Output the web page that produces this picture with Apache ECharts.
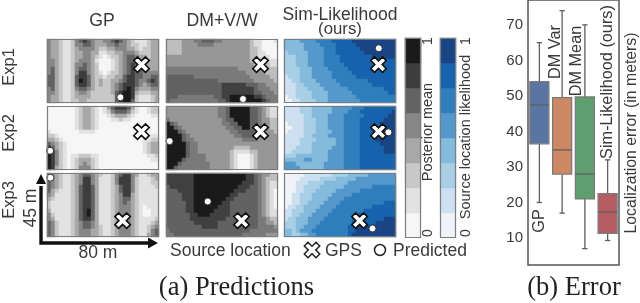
<!DOCTYPE html>
<html><head><meta charset="utf-8">
<style>html,body{margin:0;padding:0;background:#fff}#c{width:640px;height:303px;filter:blur(0.45px)}</style>
<script src="https://cdn.jsdelivr.net/npm/echarts@6/dist/echarts.min.js"></script>
</head><body><div id="c"></div>
<script>
// Contour level tables: one row of digits per 2.8 m band, 0 = lowest level, 7 = highest
const gpExp1=["4332112456543344565432111233","4332112445543334454432211233","4332112344443223344433212233","4332112334433112233444322233","4332112334432101223455433233","4432112344431000123455443333","4432112445432000123456544333","4532112455432000123456554333","4532112466432101223456554444","5532112566532212233566554455","5532112576532322334566544565","5532112566532322345666543455","4532112455432222345676433344","4432112344322222356776322233","4332112333322222256776211123","4332112233222222256775211123"];
const gpExp2=["0000000123321013566653100122","0000000123321012455542100122","0000000123321001233321000011","0000000123321000112110000000","0000000123321000000000000000","0000000123321000000000000000","1000000011110000000000000000","2210000000000000000000000011","3321000000000000000000001122","5432100000000000000000001233","6532100000000000000000001233","7642100000000000000000001233","7642101122211000000000000112","7642101233321000000000000011","7642101234321000000000000000","7632101244421000000000000000"];
const gpExp3=["5432112345543211245664311233","5432112346643111246664211123","5432112346643111246664211122","5432112356653111235664211112","5321112356653111235664211111","4311112356653111234663211111","3211112356653111234553211111","2111112356653111234543211111","2111112356653111234443210111","3111112356753111234443210011","4211112356753111234443210011","4311112356653111234443211112","5421112345543111234443211123","5421112345543211234443211234","5421112344433211234443211245","5421112344433211234443211345"];
const dmExp1=["2222333445554433333332110001","2222333344443333333332110000","2222333333333333333332210000","2222333333333333333332211000","3333333333333333333332211100","3333333333333333333332221111","3333333333333333333333222211","4444444444444444443333332222","4444444444444444444433333222","5555555444444444444443333322","5555555555555444444444333332","5555555555555566666655544333","5555555555555566666666544433","5555555555555566666666554443","5554444444445566777777665444","5444444444444556777777776544"];
const dmExp2=["3333333333333445777775543211","3333333333333445777775543211","3333333333333445777775543211","4333333333333345577775543322","7543333333333344557775543322","7754333333333334455775443322","7775433333333333445555443332","7777543333333333344555443333","7777544333333333333444433333","7777754433333333333333333333","7777754433333333322223333333","7777754433333333211112233333","7777754444333333210001233333","7777544444333333210001233333","7775444444433333210001233333","7754444444433333210001233333"];
const dmExp3=["6666666777777777777766543322","6666666777777777777766543222","6666666777777777777666543211","5666666777777777776665543211","5556666777777777766655543210","5555666777777777665555543210","5555666777777776655555543210","5555566777777766555555543210","5555566777777666555555543210","5555566777776666555555543211","5555556677766666555555543211","5555556666666665555555544322","5555555666666555555555544332","5555555556666555555555544443","4555555555555555555554444444","4455555555555555555444444333"];
const simExp1=["3333444455556666677777777777","3333344445555666667777777777","3333344444555666666777777777","2333334444555666666677777777","2223334444555566666666777777","2223334444555566666666666666","2223334444555556666666666666","2222333444455555666666666666","2222333444445555566666666666","1222333444445555556666666666","1122333344444555555556666666","1112233334444455555555666666","1112223333444444555555555666","1112222333344444455555555566","0112222333344444445555555555","0011222233344444444555555555"];
const simExp2=["1111222333334444455566666666","1111222333334444555666666667","1111122333344445555566666677","1111122233344445555666666777","0111122233344445555666667777","0011122233344445555666667777","0111122233334445555666667777","1111122333344445555666667777","1111222233333445555666677777","1111222333333445555666667777","1112222333334445555666666777","1122222333344445555666666777","2223333333344445555666666666","3333344333344445555666666666","4443333333444445555666666666","4444333333444445555666666666"];
const simExp3=["0000011111112222333334444444","0000111112222333334444444444","0001112222333333444444444444","0001122223333334444444555555","0001122233333444444555555555","0011222333334444455555555555","0011222333344445555555555555","0011223333444455555555555666","0112233334444555555555666666","1122233344445555555566666666","1122333444455555556666666666","1223334444555555566666666777","2223334445555555566666677777","2223344455555555667777777777","3323444555555555667777777777","3322334455555555677777777777"];
const grayLevels=["#f6f6f6","#e2e2e2","#c8c8c8","#a8a8a8","#878787","#636363","#3d3d3d","#1a1a1a"];
const dmLevels=["#f6f6f6","#dedede","#bebebe","#979797","#7a7a7a","#626262","#404040","#1a1a1a"];
const blueLevels=["#eff3f8","#cde0f2","#a9cfe6","#84badc","#5599cc","#2f7fbd","#1763ad","#1a4585"];
const colorbarSteps=[0,1,2,3,4,5,6,7];
// GPS and predicted source positions, metres on the 80 m x 45 m site
const gpsByExp=[[67.5,27],[67.5,27],[54,11.5]];
const predGP=[[52.4,4],[2.2,13.5],[2.4,41.7]];
const predDM=[[55,2.8],[2.6,20.3],[29.8,25]];
const predSim=[[67.7,38.5],[74.6,26.5],[63.2,6]];
// Localization error box plot: low, q1, median, q3, high
const boxNames=["GP","DM Var","DM Mean","Sim-Likelihood (ours)"];
const boxValues=[[20,36.5,47.5,54,65],[17,28,34.8,49.5,74],[7,21,28,49.7,70],[9.3,11.3,17.3,22.5,32]];
const boxColors=["#5875a4","#cc8963","#5f9e6e","#b55d60"];
const errorTicks=[10,20,30,40,50,60,70];

const colX=[47,166,284], rowY=[39,106,173], PW=112, PH=64;
const XPATH='path://M2.4,0 L5,2.6 L7.6,0 L10,2.4 L7.4,5 L10,7.6 L7.6,10 L5,7.4 L2.4,10 L0,7.6 L2.6,5 L0,2.4 Z';
const panels=[
 {rows:gpExp1,pal:grayLevels,c:0,r:0,gps:gpsByExp[0],pred:predGP[0]},
 {rows:gpExp2,pal:grayLevels,c:0,r:1,gps:gpsByExp[1],pred:predGP[1]},
 {rows:gpExp3,pal:grayLevels,c:0,r:2,gps:gpsByExp[2],pred:predGP[2]},
 {rows:dmExp1,pal:dmLevels,c:1,r:0,gps:gpsByExp[0],pred:predDM[0]},
 {rows:dmExp2,pal:dmLevels,c:1,r:1,gps:gpsByExp[1],pred:predDM[1]},
 {rows:dmExp3,pal:dmLevels,c:1,r:2,gps:gpsByExp[2],pred:predDM[2]},
 {rows:simExp1,pal:blueLevels,c:2,r:0,gps:gpsByExp[0],pred:predSim[0]},
 {rows:simExp2,pal:blueLevels,c:2,r:1,gps:gpsByExp[1],pred:predSim[1]},
 {rows:simExp3,pal:blueLevels,c:2,r:2,gps:gpsByExp[2],pred:predSim[2]}
];
const grids=[],xAxes=[],yAxes=[],series=[],graphics=[];
const FONT='"Liberation Sans",Arial,sans-serif', INK='#3a3a3a';
function idx(n){return Array.from({length:n},(_,i)=>i);}
function hiddenCat(n,inv){return {type:'category',data:idx(n),show:false,inverse:!!inv};}
function frame(x,y,w,h){graphics.push({type:'rect',z:50,silent:true,shape:{x:x+.5,y:y+.5,width:w-1,height:h-1},style:{fill:'none',stroke:'#7d7d7d',lineWidth:1.2}});}
function text(t,x,y,size,opt){opt=opt||{};graphics.push({type:'text',z:60,silent:true,x:x,y:y,rotation:opt.vert?Math.PI/2:0,style:{text:t,font:(size)+'px '+(opt.font||FONT),fill:opt.fill||INK,textAlign:opt.align||'center',textVerticalAlign:'middle'}});}

panels.forEach(p=>{
  const g=grids.length;
  grids.push({left:colX[p.c],top:rowY[p.r],width:PW,height:PH});
  const cx=xAxes.length, cy=yAxes.length;
  xAxes.push(hiddenCat(28)); yAxes.push(hiddenCat(16,true));
  xAxes.push({type:'value',min:0,max:80,show:false,gridIndex:g,splitLine:{show:false}});
  yAxes.push({type:'value',min:0,max:45,show:false,gridIndex:g,splitLine:{show:false}});
  xAxes[cx].gridIndex=g; yAxes[cy].gridIndex=g;
  const d=[];
  p.rows.forEach((s,r)=>{for(let c=0;c<s.length;c++){const v=+s[c];d.push({value:[c,r,v],itemStyle:{color:p.pal[v]}});}});
  series.push({type:'heatmap',xAxisIndex:cx,yAxisIndex:cy,data:d,silent:true,progressive:0,itemStyle:{borderWidth:0}});
  series.push({type:'scatter',xAxisIndex:cx+1,yAxisIndex:cy+1,z:5,silent:true,symbol:XPATH,symbolSize:15.5,data:[p.gps],itemStyle:{color:'#fff',borderColor:'#111',borderWidth:1.6,opacity:1}});
  series.push({type:'scatter',xAxisIndex:cx+1,yAxisIndex:cy+1,z:6,silent:true,symbol:'circle',symbolSize:7,data:[p.pred],itemStyle:{color:'#fff',borderColor:'#111',borderWidth:.8,opacity:1}});
  frame(colX[p.c],rowY[p.r],PW,PH);
});
// colour bars
[[405,grayLevels],[440,blueLevels]].forEach(b=>{
  const g=grids.length;
  grids.push({left:b[0],top:38,width:16,height:200});
  const ax=xAxes.length, ay=yAxes.length;
  const xa=hiddenCat(1); xa.gridIndex=g; xAxes.push(xa);
  const ya=hiddenCat(8); ya.gridIndex=g; yAxes.push(ya);
  series.push({type:'heatmap',xAxisIndex:ax,yAxisIndex:ay,silent:true,progressive:0,
    data:colorbarSteps.map(v=>({value:[0,v,v],itemStyle:{color:b[1][v]}}))});
  frame(b[0],38,16,200);
});
// box plot
const bg=grids.length;
grids.push({left:528,top:0,width:91,height:265,show:true,borderColor:'#555',borderWidth:1.5,backgroundColor:'transparent'});
const bx=xAxes.length, by=yAxes.length;
xAxes.push({type:'category',gridIndex:bg,data:boxNames,show:false});
yAxes.push({type:'value',gridIndex:bg,min:2.4,max:77,axisLine:{show:false},axisTick:{show:false},splitLine:{show:false},
  axisLabel:{customValues:errorTicks,fontFamily:FONT,fontSize:15,color:INK,margin:5}});
series.push({type:'custom',xAxisIndex:bx,yAxisIndex:by,silent:true,z:4,
  encode:{x:0,y:[1,2,3,4,5]},
  data:boxValues.map((v,i)=>[i].concat(v)),
  renderItem:function(params,api){
    const i=api.value(0);
    const P=k=>api.coord([i,api.value(k)]);
    const lo=P(1),q1=P(2),md=P(3),q3=P(4),hi=P(5),x=lo[0],hw=9.5,cw=2.7;
    const st={stroke:'#5f5f5f',lineWidth:1.3,fill:'none'};
    const line=(a,b,c,d)=>({type:'line',shape:{x1:a,y1:b,x2:c,y2:d},style:st});
    return {type:'group',children:[
      line(x,hi[1],x,q3[1]),line(x,q1[1],x,lo[1]),
      line(x-cw,hi[1],x+cw,hi[1]),line(x-cw,lo[1],x+cw,lo[1]),
      {type:'rect',shape:{x:x-hw,y:q3[1],width:hw*2,height:q1[1]-q3[1]},style:{fill:boxColors[i],stroke:'#7b7b7b',lineWidth:1.3}},
      line(x-hw,md[1],x+hw,md[1])
    ]};
  }});
// legend marks, one small value grid around each
[[302,20,XPATH,15.5],[371,18,'circle',11]].forEach(m=>{
  const g=grids.length;
  grids.push({left:m[0],top:241,width:m[1],height:18});
  const ax=xAxes.length, ay=yAxes.length;
  xAxes.push({type:'value',min:0,max:2,show:false,gridIndex:g,splitLine:{show:false}});
  yAxes.push({type:'value',min:0,max:2,show:false,gridIndex:g,splitLine:{show:false}});
  series.push({type:'scatter',xAxisIndex:ax,yAxisIndex:ay,silent:true,symbol:m[2],symbolSize:m[3],data:[[1,1]],itemStyle:{color:'#fff',borderColor:'#222',borderWidth:1.5,opacity:1}});
});
// text
text('GP',102,21,17.7);
text('DM+V/W',222,21,17.7);
text('Sim-Likelihood',340,15,17.5);
text('(ours)',340,29,16.8);
text('Exp1',9,67,16.5,{vert:1});
text('Exp2',9,133,16.5,{vert:1});
text('Exp3',9,200,16.5,{vert:1});
text('45 m',31,208,17.5,{vert:1});
text('80 m',98,253,17.5);
text('Source location',170,251,17.5,{align:'left'});
text('GPS',325,251,17.5,{align:'left'});
text('Predicted',393,251,17.5,{align:'left'});
text('1',428,41,14,{vert:1});text('0',428,233,14,{vert:1});
text('Posterior mean',428,132,14.5,{vert:1});
text('1',466,41,14,{vert:1});text('0',466,233,14,{vert:1});
text('Source location likelihood',466,137,14.5,{vert:1});
text('(a) Predictions',236.5,288,26.5,{font:'"Liberation Serif",serif',fill:'#222'});
text('(b) Error',574,288,26.5,{font:'"Liberation Serif",serif',fill:'#222'});
text('GP',540,221,16.3,{vert:1});
text('DM Var',556,52,16.3,{vert:1});
text('DM Mean',577,61,16.3,{vert:1});
text('Sim-Likelihood (ours)',608,82,16.3,{vert:1});
text('Localization error (in meters)',632,133,15.8,{vert:1});
// scale arrows
const blk='#111';
graphics.push({type:'polyline',z:55,silent:true,shape:{points:[[41,186],[41,243],[150,243]]},style:{stroke:blk,lineWidth:3.4,fill:'none'}});
graphics.push({type:'polygon',z:55,silent:true,shape:{points:[[36,184],[41,174],[46,184]]},style:{fill:blk}});
graphics.push({type:'polygon',z:55,silent:true,shape:{points:[[148,237.5],[158,243],[148,248.5]]},style:{fill:blk}});

const chart=echarts.init(document.getElementById('c'),null,{renderer:'canvas'});
chart.setOption({animation:false,backgroundColor:'#fff',grid:grids,xAxis:xAxes,yAxis:yAxes,series:series,graphic:{elements:graphics}});
</script></body></html>
